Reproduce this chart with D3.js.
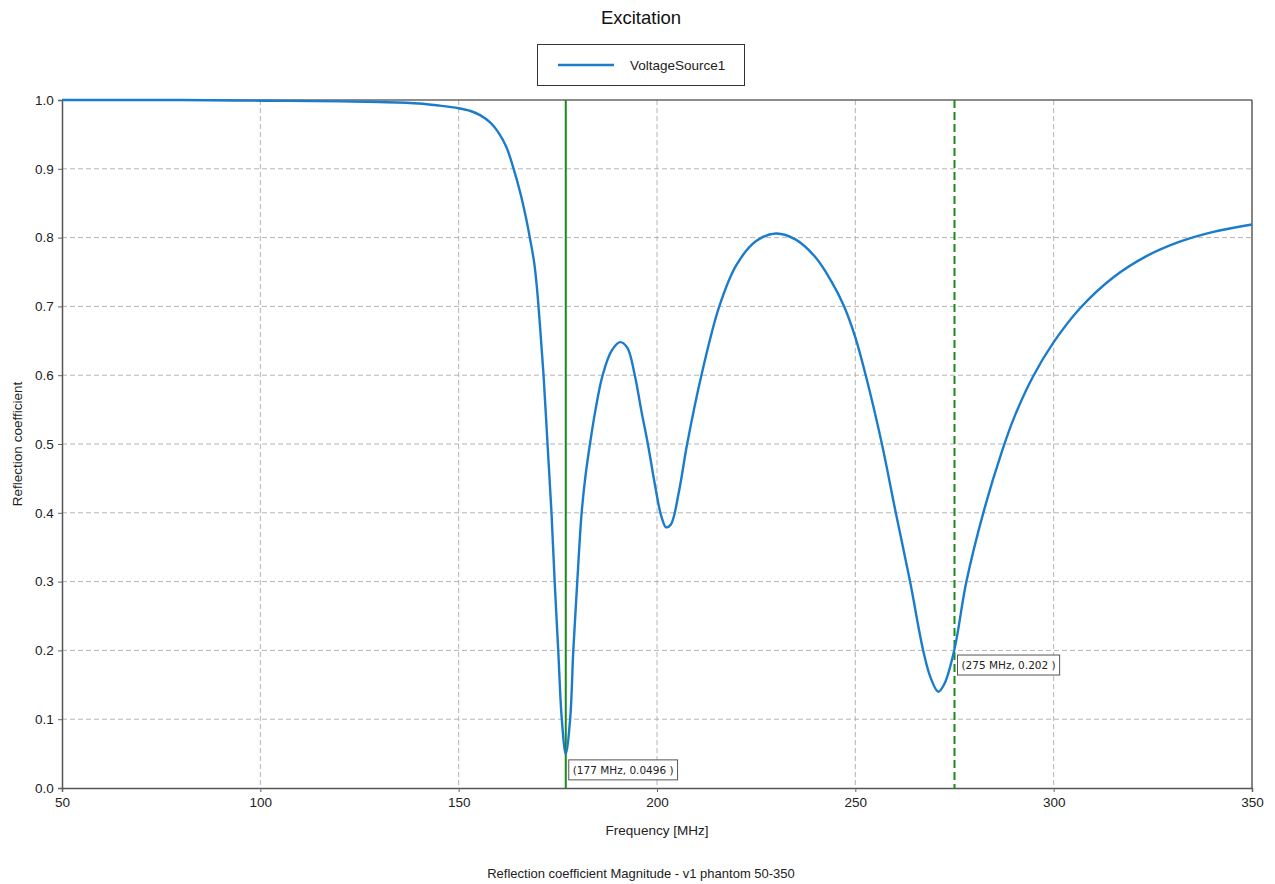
<!DOCTYPE html>
<html>
<head>
<meta charset="utf-8">
<script src="https://cdn.jsdelivr.net/npm/d3@7"></script>
<style>
  body { margin: 0; background: #fff; }
  svg { display: block; font-family: "Liberation Sans", Arial, sans-serif; }
</style>
</head>
<body>
<svg id="chart" width="1275" height="884"></svg>
<script>
// ---- data ----
const freqMHz = [50, 80, 100, 120, 130, 140, 145, 150, 153, 155.4, 158, 160, 162, 163.8, 165.5, 167, 168, 169, 169.7,
  170.5, 171.4, 172.4, 173.4, 174.2, 175.1, 176.0, 177, 178.1, 178.9, 179.9, 181.0, 182, 183.1, 184.5, 186.3, 188.5,
  190.7, 192.5, 194.4, 196, 197.7, 199.5, 201, 202.3, 203.5, 205.5, 207.6, 211.2, 215.7, 220, 225, 230,
  235, 240, 244, 247.1, 250, 252.7, 256.7, 260.2, 263.8, 267.1, 269, 270.9, 272.5, 275, 278, 282.5,
  287, 290, 294.7, 300, 306.6, 315, 323.4, 331.8, 340, 350];
const reflection = [1.0, 1.0, 0.999, 0.998, 0.997, 0.995, 0.992, 0.988, 0.984, 0.978, 0.967, 0.953, 0.932, 0.901, 0.866, 0.828, 0.798, 0.765, 0.729,
  0.672, 0.60, 0.50, 0.40, 0.30, 0.20, 0.10, 0.0496, 0.10, 0.20, 0.30, 0.40, 0.455, 0.50, 0.55, 0.60, 0.635,
  0.648, 0.64, 0.60, 0.55, 0.50, 0.44, 0.397, 0.379, 0.383, 0.43, 0.50, 0.60, 0.70, 0.760, 0.795, 0.806,
  0.797, 0.771, 0.736, 0.701, 0.655, 0.598, 0.50, 0.40, 0.30, 0.20, 0.16, 0.140, 0.152, 0.202, 0.30, 0.405,
  0.49, 0.538, 0.597, 0.648, 0.697, 0.742, 0.773, 0.794, 0.808, 0.819];
const xTicks = [50, 100, 150, 200, 250, 300, 350];
const yTicks = [0, 0.1, 0.2, 0.3, 0.4, 0.5, 0.6, 0.7, 0.8, 0.9, 1.0];
const markerFreq = [177, 275];
const markerValue = [0.0496, 0.202];
const markerLabels = ["(177 MHz, 0.0496 )", "(275 MHz, 0.202 )"];
const seriesName = "VoltageSource1";
const titleText = "Excitation";
const xLabel = "Frequency [MHz]";
const yLabel = "Reflection coefficient";
const caption = "Reflection coefficient Magnitude - v1 phantom 50-350";

// ---- layout ----
const svg = d3.select("#chart");
const L = 62, R = 1252, T = 100, B = 788;
const x = d3.scaleLinear().domain([50, 350]).range([L, R]);
const y = d3.scaleLinear().domain([0, 1]).range([B, T]);
const lineColor = "#1b7ccc";
const green = "#1a8a1a";

// grid
const grid = svg.append("g");
grid.selectAll("line.v").data(xTicks.slice(1, -1)).join("line")
  .attr("x1", d => x(d)).attr("x2", d => x(d)).attr("y1", T).attr("y2", B)
  .attr("stroke", "#b4b4b4").attr("stroke-width", 1).attr("stroke-dasharray", "5,3");
grid.selectAll("line.h").data(yTicks.slice(1, -1)).join("line")
  .attr("x1", L).attr("x2", R).attr("y1", d => y(d)).attr("y2", d => y(d))
  .attr("stroke", "#b4b4b4").attr("stroke-width", 1).attr("stroke-dasharray", "5,3");

// axes
const xAxis = svg.append("g").attr("transform", `translate(0,${B})`)
  .call(d3.axisBottom(x).tickValues(xTicks).tickFormat(d3.format("d")).tickSizeOuter(0).tickSize(4));
const yAxis = svg.append("g").attr("transform", `translate(${L},0)`)
  .call(d3.axisLeft(y).tickValues(yTicks).tickFormat(d3.format(".1f")).tickSizeOuter(0).tickSize(4));
[xAxis, yAxis].forEach(a => {
  a.selectAll("text").attr("font-size", 13.5).attr("fill", "#222").attr("font-family", "Liberation Sans, Arial, sans-serif");
  a.selectAll(".tick line").attr("stroke", "#666");
  a.select(".domain").attr("stroke", "#555").attr("stroke-width", 1.5);
});
xAxis.selectAll("text").attr("dy", "0.9em");
yAxis.selectAll("text").attr("dx", "-0.1em");

// top and right frame
svg.append("line").attr("x1", L).attr("x2", R).attr("y1", T).attr("y2", T)
  .attr("stroke", "#666").attr("stroke-width", 1.5);
svg.append("line").attr("x1", R).attr("x2", R).attr("y1", T).attr("y2", B)
  .attr("stroke", "#333").attr("stroke-width", 1.2);

// markers (vertical lines)
svg.append("line").attr("x1", x(markerFreq[0])).attr("x2", x(markerFreq[0])).attr("y1", T).attr("y2", B)
  .attr("stroke", green).attr("stroke-width", 2);
svg.append("line").attr("x1", x(markerFreq[1])).attr("x2", x(markerFreq[1])).attr("y1", T).attr("y2", B)
  .attr("stroke", green).attr("stroke-width", 2).attr("stroke-dasharray", "8,4");

// series line
const data = freqMHz.map((f, i) => [f, reflection[i]]);
svg.append("path").datum(data)
  .attr("fill", "none").attr("stroke", lineColor).attr("stroke-width", 2.4)
  .attr("d", d3.line().x(d => x(d[0])).y(d => y(d[1])).curve(d3.curveCatmullRom.alpha(0.5)));

// marker labels
markerFreq.forEach((f, i) => {
  const g = svg.append("g");
  const t = g.append("text").attr("x", x(f) + 7).attr("y", y(markerValue[i]) + 20)
    .attr("font-family", "DejaVu Sans, Verdana, sans-serif").attr("font-size", 10.5).attr("fill", "#222")
    .text(markerLabels[i]);
  const bb = t.node().getBBox();
  g.insert("rect", "text").attr("x", bb.x - 4).attr("y", bb.y - 4).attr("width", bb.width + 8).attr("height", bb.height + 8)
    .attr("fill", "#fff").attr("stroke", "#555").attr("stroke-width", 1);
});

// title
svg.append("text").attr("x", 641).attr("y", 24).attr("text-anchor", "middle")
  .attr("font-size", 18.5).attr("fill", "#111").text(titleText);

// legend
svg.append("rect").attr("x", 537.5).attr("y", 44.5).attr("width", 207).attr("height", 41)
  .attr("fill", "#fff").attr("stroke", "#333").attr("stroke-width", 1);
svg.append("line").attr("x1", 558).attr("x2", 614).attr("y1", 65).attr("y2", 65)
  .attr("stroke", lineColor).attr("stroke-width", 2.4);
svg.append("text").attr("x", 630).attr("y", 70).attr("font-size", 13.5).attr("fill", "#222").text(seriesName);

// axis labels
svg.append("text").attr("x", (L + R) / 2).attr("y", 835).attr("text-anchor", "middle")
  .attr("font-size", 13.5).attr("fill", "#222").text(xLabel);
svg.append("text").attr("transform", `translate(22,${(T + B) / 2}) rotate(-90)`).attr("text-anchor", "middle")
  .attr("font-size", 13.5).attr("fill", "#222").text(yLabel);
svg.append("text").attr("x", 641).attr("y", 878).attr("text-anchor", "middle")
  .attr("font-size", 13).attr("fill", "#222").text(caption);
</script>
</body>
</html>
